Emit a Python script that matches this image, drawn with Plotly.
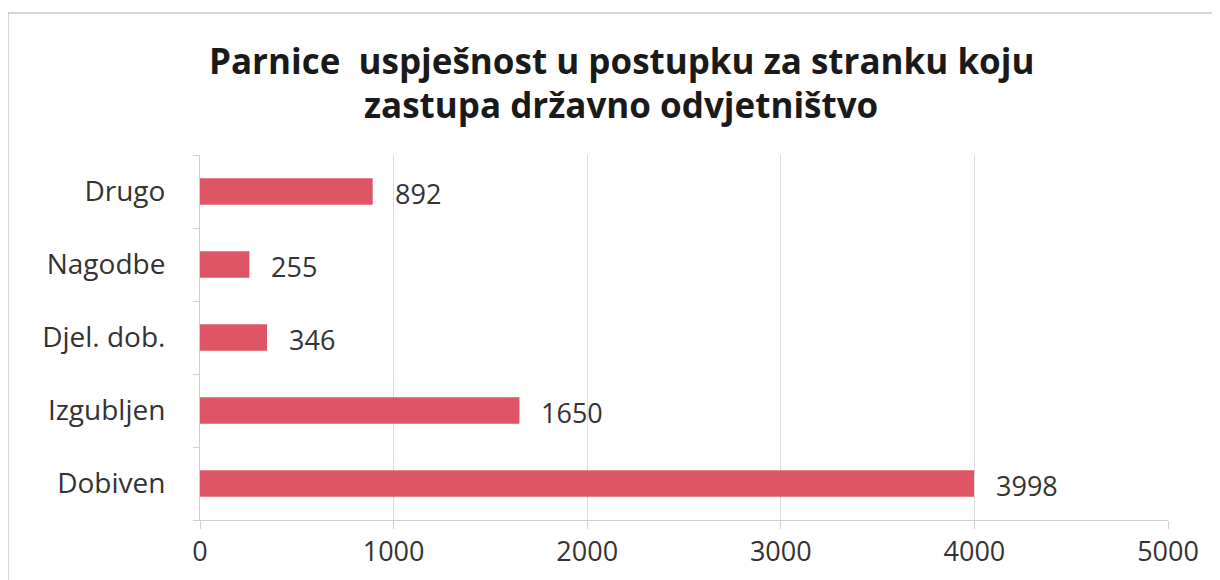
import plotly.graph_objects as go

categories = ["Dobiven", "Izgubljen", "Djel. dob.", "Nagodbe", "Drugo"]
values = [3998, 1650, 346, 255, 892]
x_ticks = [0, 1000, 2000, 3000, 4000, 5000]
title_lines = ["Parnice  uspješnost u postupku za stranku koju", "zastupa državno odvjetništvo"]

FONT = "'Open Sans', sans-serif"
BAR = "#DE5665"

fig = go.Figure(go.Bar(
    y=categories, x=values, orientation="h",
    marker=dict(color=BAR, line=dict(width=0)),
    width=0.36,
))

for c, v in zip(categories, values):
    fig.add_annotation(x=v, y=c, text=str(v), showarrow=False, xanchor="left",
                       xshift=20, yshift=-2, font=dict(family=FONT, size=27, color="#333333"))

PLOT_H = 365
for line, ypix in zip(title_lines, [60, 105]):
    fig.add_annotation(x=0.435, xref="paper", y=(520 - ypix) / PLOT_H, yref="paper",
                       text=line, showarrow=False, xanchor="center", yanchor="middle",
                       font=dict(family=FONT, size=35, color="#1a1a1a", weight="bold"))

fig.update_layout(
    width=1220, height=580,
    paper_bgcolor="white", plot_bgcolor="white",
    margin=dict(l=192, r=60, t=147, b=68),
    showlegend=False,
    bargap=0.64,
)
fig.update_xaxes(range=[0, 5000], tickvals=x_ticks, ticktext=[str(t) for t in x_ticks],
                 showgrid=True, gridcolor="#dcdcdc", gridwidth=1,
                 showline=True, linecolor="#d0d0d0",
                 ticks="outside", ticklen=8, tickcolor="#d0d0d0",
                 tickfont=dict(family=FONT, size=27, color="#333333"), zeroline=False)
fig.update_yaxes(showline=True, linecolor="#d0d0d0", showgrid=False,
                 ticks="outside", tickson="boundaries", ticklen=6, tickcolor="#d0d0d0",
                 ticklabelstandoff=28,
                 tickfont=dict(family=FONT, size=28, color="#333333"))
fig.add_shape(type="rect", xref="paper", yref="paper",
              x0=(0 - 192) / 968, x1=(1206 - 192) / 968, y0=-0.3, y1=(520 - 13) / PLOT_H,
              line=dict(color="#cfc4d8", width=1.5), fillcolor="rgba(0,0,0,0)", layer="below")

fig.write_html("out.html")
